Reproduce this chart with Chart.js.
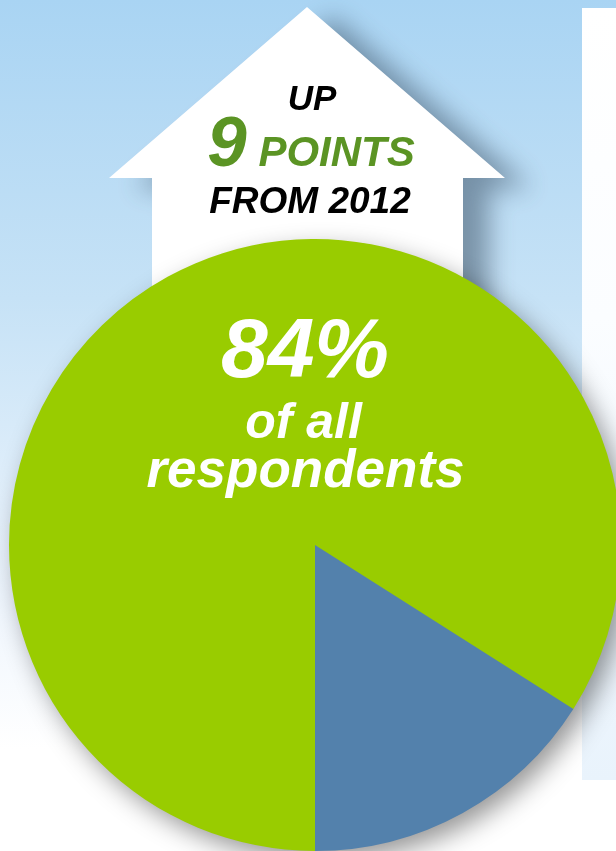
<!DOCTYPE html>
<html>
<head>
<meta charset="utf-8">
<script src="https://cdn.jsdelivr.net/npm/chart.js@4/dist/chart.umd.min.js"></script>
<style>
  html, body { margin:0; padding:0; width:616px; height:851px; overflow:hidden; background:#fff; }
  #wrap { position:relative; width:616px; height:851px; overflow:hidden; }
  #c { position:absolute; left:0; top:0; }
  .t { position:absolute; left:0; text-align:center; font-family:"Liberation Sans", Arial, sans-serif;
       font-weight:bold; font-style:italic; line-height:1; white-space:nowrap; }
</style>
</head>
<body>
<div id="wrap">
  <canvas id="c" width="630" height="851" style="width:630px;height:851px"></canvas>
  <div class="t" style="top:80px;width:624px;font-size:35px;color:#000;">UP</div>
  <div class="t" style="top:106px;width:622px;font-size:71px;color:#5b9424;">9<span style="font-size:42px;"> POINTS</span></div>
  <div class="t" style="top:182px;width:620px;font-size:37px;color:#000;">FROM 2012</div>
  <div class="t" style="top:306px;width:610px;font-size:84px;color:#fff;">84%</div>
  <div class="t" style="top:396px;width:607px;font-size:50px;color:#fff;">of all</div>
  <div class="t" style="top:442px;width:611px;font-size:53px;color:#fff;">respondents</div>
</div>
<script>
const categories = ['Respondents', 'Others'];
const values = [84, 16];
const colors = ['#99cc00', '#5381ac'];

const decor = {
  id: 'decor',
  beforeDraw(chart) {
    const ctx = chart.ctx;
    ctx.save();
    const g = ctx.createLinearGradient(0, 0, 0, 851);
    g.addColorStop(0, '#a9d4f3');
    g.addColorStop(0.35, '#c6e2f6');
    g.addColorStop(0.7, '#eef5fd');
    g.addColorStop(0.88, '#ffffff');
    g.addColorStop(1, '#ffffff');
    ctx.fillStyle = g;
    ctx.fillRect(0, 0, 630, 851);
    const pg = ctx.createLinearGradient(0, 8, 0, 780);
    pg.addColorStop(0, '#ffffff');
    pg.addColorStop(0.4, '#fbfdff');
    pg.addColorStop(1, '#e9f3fc');
    ctx.fillStyle = pg;
    ctx.fillRect(582, 8, 60, 772);
    ctx.beginPath();
    ctx.moveTo(307, 7);
    ctx.lineTo(505, 178);
    ctx.lineTo(463, 178);
    ctx.lineTo(463, 420);
    ctx.lineTo(152, 420);
    ctx.lineTo(152, 178);
    ctx.lineTo(109, 178);
    ctx.closePath();
    ctx.shadowColor = 'rgba(50,70,90,0.5)';
    ctx.shadowBlur = 26;
    ctx.shadowOffsetX = 26;
    ctx.shadowOffsetY = 10;
    ctx.fillStyle = '#ffffff';
    ctx.fill();
    ctx.restore();
  },
  beforeDatasetsDraw(chart) {
    const arc = chart.getDatasetMeta(0).data[0];
    if (!arc) return;
    const ctx = chart.ctx;
    ctx.save();
    ctx.beginPath();
    ctx.arc(arc.x, arc.y, arc.outerRadius - 1, 0, Math.PI * 2);
    ctx.shadowColor = 'rgba(0,0,0,0.42)';
    ctx.shadowBlur = 26;
    ctx.shadowOffsetX = 8;
    ctx.shadowOffsetY = 10;
    ctx.fillStyle = colors[0];
    ctx.fill();
    ctx.restore();
  }
};

new Chart(document.getElementById('c'), {
  type: 'pie',
  data: {
    labels: categories,
    datasets: [{
      data: values,
      backgroundColor: colors,
      borderWidth: 0,
      hoverOffset: 0,
      offset: 0
    }]
  },
  options: {
    responsive: false,
    animation: false,
    rotation: 180,
    layout: { padding: { left: 9, right: 9, top: 239, bottom: 0 } },
    plugins: { legend: { display: false }, tooltip: { enabled: false } },
    events: []
  },
  plugins: [decor]
});
</script>
</body>
</html>
